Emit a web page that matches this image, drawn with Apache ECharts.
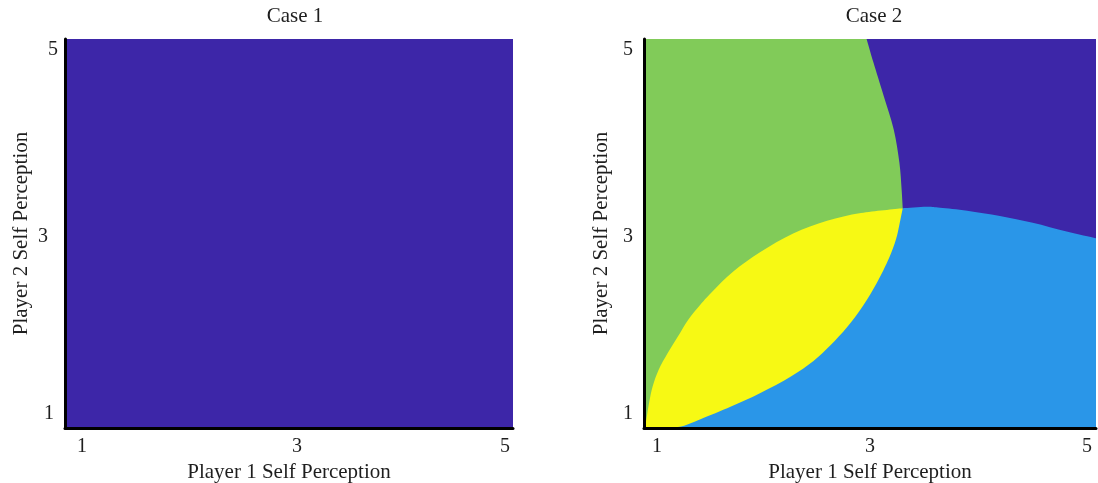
<!DOCTYPE html>
<html>
<head>
<meta charset="utf-8">
<script src="https://cdn.jsdelivr.net/npm/echarts@6/dist/echarts.min.js"></script>
<style>html,body{margin:0;padding:0;background:#fff}#c{width:1098px;height:483px}</style>
</head>
<body>
<div id="c"></div>
<script>
// ---- data (data coordinates) ----
const titles = ['Case 1', 'Case 2'];
const xName = 'Player 1 Self Perception';
const yName = 'Player 2 Self Perception';
const tickValues = [1, 3, 5];
const fullSquare = [[1, 1], [5, 1], [5, 5], [1, 5], [1, 1]];
// Case 2 region boundaries
const greenPurpleEdge = [[2.97, 5], [3.03, 4.76], [3.12, 4.42], [3.21, 4.07], [3.26, 3.73], [3.28, 3.45], [3.29, 3.26]];
const bluePurpleEdge = [[3.29, 3.26], [3.5, 3.275], [3.62, 3.265], [3.86, 3.235], [4.15, 3.18], [4.44, 3.11], [4.74, 3.02], [5, 2.95]];
const greenYellowEdge = [[1, 1], [1.015, 1.05], [1.045, 1.26], [1.077, 1.43], [1.13, 1.60], [1.21, 1.77], [1.30, 1.94], [1.39, 2.11], [1.50, 2.27], [1.61, 2.41], [1.79, 2.61], [2.03, 2.81], [2.32, 3.00], [2.62, 3.13], [2.92, 3.21], [3.29, 3.26]];
const yellowBlueEdge = [[3.29, 3.26], [3.26, 3.09], [3.23, 2.94], [3.17, 2.75], [3.06, 2.49], [2.94, 2.26], [2.80, 2.04], [2.65, 1.85], [2.50, 1.69], [2.30, 1.53], [2.03, 1.36], [1.77, 1.22], [1.50, 1.09], [1.30, 1.01], [1, 1]];

const C_PURPLE = '#3d26a8', C_GREEN = '#81cb59', C_YELLOW = '#f7f914', C_BLUE = '#2a96e8';

// regions: sequences of straight / smooth pieces
const squareRegion = [{ pts: fullSquare, smooth: false }];
const greenRegion = [
  { pts: [[1, 1], [1, 5], [2.97, 5]], smooth: false },
  { pts: greenPurpleEdge, smooth: true },
  { pts: [[3.29, 3.26], [1, 1]], smooth: false }
];
const blueRegion = [
  { pts: [[1, 1], [5, 1], [5, 2.95]], smooth: false },
  { pts: bluePurpleEdge.slice().reverse(), smooth: true },
  { pts: [[3.29, 3.26], [1, 1]], smooth: false }
];
const yellowRegion = [
  { pts: greenYellowEdge, smooth: true },
  { pts: yellowBlueEdge, smooth: true }
];

const FONT = 'Liberation Serif';
const TXT = '#1e1e1e';

function f(n) { return n.toFixed(2); }
function buildPath(pieces, api) {
  let d = '';
  pieces.forEach((pc, k) => {
    const p = pc.pts.map(q => api.coord(q));
    if (k === 0) d += 'M' + f(p[0][0]) + ' ' + f(p[0][1]);
    if (!pc.smooth) {
      for (let i = 1; i < p.length; i++) d += 'L' + f(p[i][0]) + ' ' + f(p[i][1]);
    } else {
      const n = p.length;
      for (let i = 0; i < n - 1; i++) {
        const p0 = p[Math.max(i - 1, 0)], p1 = p[i], p2 = p[i + 1], p3 = p[Math.min(i + 2, n - 1)];
        const c1 = [p1[0] + (p2[0] - p0[0]) / 6, p1[1] + (p2[1] - p0[1]) / 6];
        const c2 = [p2[0] - (p3[0] - p1[0]) / 6, p2[1] - (p3[1] - p1[1]) / 6];
        d += 'C' + f(c1[0]) + ' ' + f(c1[1]) + ' ' + f(c2[0]) + ' ' + f(c2[1]) + ' ' + f(p2[0]) + ' ' + f(p2[1]);
      }
    }
  });
  return d + 'Z';
}

function regionSeries(idx, pieces, color, z) {
  const pts = [].concat.apply([], pieces.map(pc => pc.pts));
  return {
    type: 'custom', xAxisIndex: idx, yAxisIndex: idx, z: z, silent: true, animation: false,
    data: pts,
    renderItem: function (params, api) {
      if (params.dataIndex !== 0) return null;
      return { type: 'path', shape: { pathData: buildPath(pieces, api) }, style: { fill: color } };
    }
  };
}

function rich(pad) {
  const o = {};
  for (const k in pad) o[k] = { fontFamily: FONT, fontSize: 20, color: TXT, padding: pad[k] };
  return o;
}
const fmt = v => (v === 1 ? '{a|1}' : v === 3 ? '{b|3}' : '{c|5}');

function xAxis(idx, pads) {
  return {
    type: 'value', gridIndex: idx, min: 1, max: 5, z: 10,
    name: xName, nameLocation: 'middle', nameGap: 27,
    nameTextStyle: { fontFamily: FONT, fontSize: 21, color: TXT },
    axisLine: { show: true, onZero: false, lineStyle: { color: '#000', width: 3 } },
    axisTick: { show: false }, splitLine: { show: false },
    axisLabel: { customValues: tickValues, margin: 9, formatter: fmt, rich: rich(pads) }
  };
}

function yAxis(idx, pads, margin, gap) {
  return {
    type: 'value', gridIndex: idx, min: 1, max: 5, z: 10,
    name: yName, nameLocation: 'middle', nameGap: gap, nameRotate: 90,
    nameTextStyle: { fontFamily: FONT, fontSize: 21, color: TXT },
    axisLine: { show: true, onZero: false, lineStyle: { color: '#000', width: 3 } },
    axisTick: { show: false }, splitLine: { show: false },
    axisLabel: { customValues: tickValues, margin: margin, formatter: fmt, rich: rich(pads) }
  };
}

const chart = echarts.init(document.getElementById('c'), null, { renderer: 'canvas' });
chart.setOption({
  animation: false,
  backgroundColor: '#fff',
  title: [
    { text: titles[0], left: 290, top: 1, textAlign: 'center', textStyle: { fontFamily: FONT, fontSize: 21, fontWeight: 'normal', color: TXT } },
    { text: titles[1], left: 869, top: 1, textAlign: 'center', textStyle: { fontFamily: FONT, fontSize: 21, fontWeight: 'normal', color: TXT } }
  ],
  grid: [
    { left: 65, right: 585, top: 39, bottom: 55, containLabel: false, outerBoundsMode: 'none' },
    { left: 644, right: 2, top: 39, bottom: 55, containLabel: false, outerBoundsMode: 'none' }
  ],
  xAxis: [
    xAxis(0, { a: [0, 0, 0, 34], b: [0, 0, 0, 16], c: [0, 16, 0, 0] }),
    xAxis(1, { a: [0, 0, 0, 26], b: [0, 0, 0, 0], c: [0, 18, 0, 0] })
  ],
  yAxis: [
    yAxis(0, { a: [0, 4, 28, 0], b: [7, 10, 0, 0], c: [22, 0, 0, 0] }, 7, 33),
    yAxis(1, { a: [0, 0, 28, 0], b: [7, 0, 0, 0], c: [22, 0, 0, 0] }, 11, 32)
  ],
  series: [
    regionSeries(0, squareRegion, C_PURPLE, 1),
    regionSeries(1, squareRegion, C_PURPLE, 1),
    regionSeries(1, greenRegion, C_GREEN, 2),
    regionSeries(1, blueRegion, C_BLUE, 2),
    regionSeries(1, yellowRegion, C_YELLOW, 3)
  ]
});
</script>
</body>
</html>
